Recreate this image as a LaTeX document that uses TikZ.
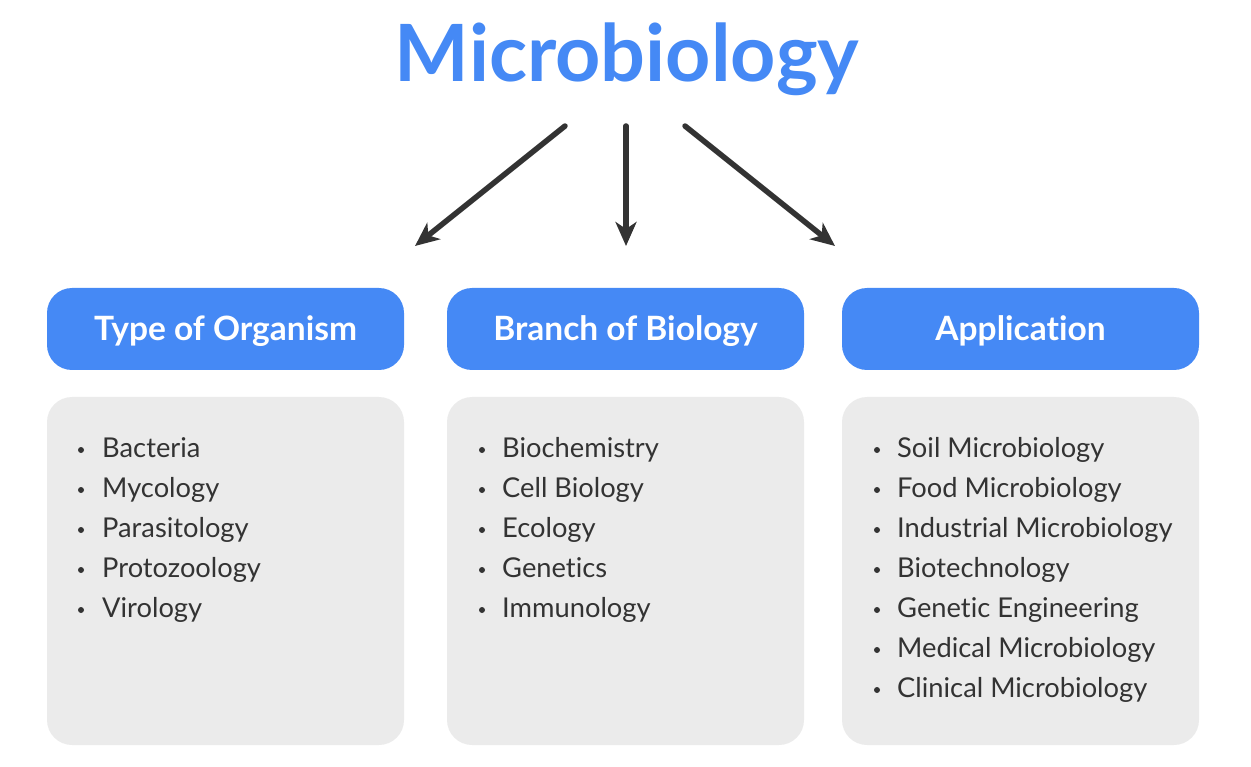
\documentclass[tikz,border=0pt]{standalone}
\usepackage{fontspec}
\setmainfont[Ligatures=NoCommon]{Lato}
\usetikzlibrary{arrows.meta}
\definecolor{mblue}{HTML}{4589F5}
\definecolor{mgrey}{HTML}{EBEBEB}
\definecolor{mdark}{HTML}{333333}
\tikzset{
  headbox/.style={fill=mblue, rounded corners=25pt, minimum width=357pt, minimum height=82pt, inner sep=0pt, text height=24pt, text depth=0pt, text=white, font=\fontsize{33.5}{36}\selectfont\bfseries},
  listbox/.style={fill=mgrey, rounded corners=25pt, minimum width=357pt, minimum height=348pt, inner sep=0pt},
  item/.style={anchor=base west, inner sep=0pt, text=mdark, font=\fontsize{27.3}{30}\selectfont},
  bul/.style={circle, fill=mdark, inner sep=0pt, minimum size=6pt},
  arr/.style={draw=mdark, line width=5.5pt, line cap=round, -{Stealth[length=24pt,width=21pt,inset=7pt]}},
}
\begin{document}
\begin{tikzpicture}[x=1pt,y=-1pt]
\useasboundingbox (0,0) rectangle (1251,767);
\node[anchor=base, inner sep=0pt, text=mblue, font=\fontsize{79}{84}\selectfont\bfseries] (title) at (627,82) {Microbiology};

\coordinate (s1) at (565,126); \coordinate (e1) at (415,246);
\coordinate (s2) at (626,126); \coordinate (e2) at (626,246);
\coordinate (s3) at (685,126); \coordinate (e3) at (835,246);
\draw[arr] (s1) -- (e1);
\draw[arr] (s2) -- (e2);
\draw[arr] (s3) -- (e3);

\node[headbox] (h1) at (225.5,329) {Type of Organism};
\node[headbox] (h2) at (625.5,329) {Branch of Biology};
\node[headbox] (h3) at (1020.5,329) {Application};

\node[listbox] (l1) at (225.5,571) {};
\node[listbox] (l2) at (625.5,571) {};
\node[listbox] (l3) at (1020.5,571) {};

\foreach \t [count=\i] in {Bacteria,Mycology,Parasitology,Protozoology,Virology}{
  \node[bul] (b1\i) at (81,{450+40*(\i-1)}) {};
  \node[item] (t1\i) at (102,{457+40*(\i-1)}) {\t};
}
\foreach \t [count=\i] in {Biochemistry,Cell Biology,Ecology,Genetics,Immunology}{
  \node[bul] (b2\i) at (482,{450+40*(\i-1)}) {};
  \node[item] (t2\i) at (502,{457+40*(\i-1)}) {\t};
}
\foreach \t [count=\i] in {Soil Microbiology,Food Microbiology,Industrial Microbiology,Biotechnology,Genetic Engineering,Medical Microbiology,Clinical Microbiology}{
  \node[bul] (b3\i) at (877,{450+40*(\i-1)}) {};
  \node[item] (t3\i) at (897,{457+40*(\i-1)}) {\t};
}
\end{tikzpicture}
\end{document}
